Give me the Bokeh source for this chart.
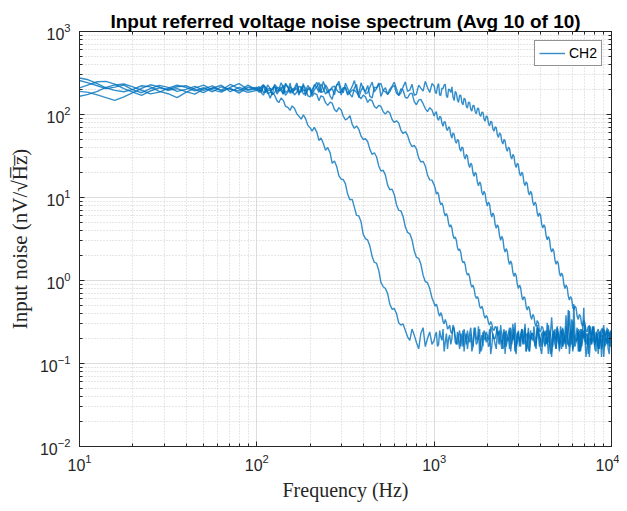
from bokeh.plotting import figure
from bokeh.models import LogAxis, LogTicker, Legend, LegendItem
from bokeh.embed import file_html
from bokeh.resources import INLINE

# ---------------- data ----------------
freq_low = [10, 11.2, 12.6, 14.1, 15.8, 17.8, 20.0, 22.4, 25.1, 28.2,
            31.6, 35.5, 39.8, 44.7, 50.1, 56.2, 63.1, 70.8, 79.4, 89.1]
freq_mid = [100, 106, 112, 119, 126, 133, 141, 150, 158, 168,
            178, 188, 200, 211, 224, 237, 251, 266, 282, 299,
            316, 335, 355, 376, 398, 422, 447, 473, 501, 531,
            562, 596, 631, 668, 708, 750, 794, 841, 891, 944]
freq_mid_b = [103, 109, 115, 122, 130, 137, 145, 154, 163, 173,
              183, 194, 205, 218, 230, 244, 259, 274, 290, 307,
              325, 345, 365, 387, 410, 434, 460, 487, 516, 546,
              579, 613, 649, 688, 729, 772, 818, 866, 917, 972]
freq_high = [1000, 1029, 1059, 1090, 1122, 1155, 1189, 1223, 1259, 1296,
             1334, 1372, 1413, 1454, 1496, 1540, 1585, 1631, 1679, 1728,
             1778, 1830, 1884, 1939, 1995, 2054, 2113, 2175, 2239, 2304,
             2371, 2441, 2512, 2585, 2661, 2738, 2818, 2901, 2985, 3073,
             3162, 3255, 3350, 3447, 3548, 3652, 3758, 3868, 3981, 4097,
             4217, 4340, 4467, 4597, 4732, 4870, 5012, 5158, 5309, 5464,
             5623, 5788, 5957, 6131, 6310, 6494, 6683, 6879, 7079, 7286,
             7499, 7718, 7943, 8175, 8414, 8660, 8913, 9173, 9441, 9716,
             10000]
freq_high_b = [1014, 1044, 1074, 1106, 1138, 1172, 1206, 1241, 1277, 1315,
               1353, 1392, 1433, 1475, 1518, 1562, 1608, 1655, 1703, 1753,
               1804, 1857, 1911, 1967, 2024, 2084, 2144, 2207, 2271, 2337,
               2405, 2476, 2548, 2622, 2700, 2778, 2859, 2943, 3028, 3118,
               3208, 3302, 3399, 3497, 3599, 3705, 3812, 3924, 4039, 4156,
               4278, 4403, 4532, 4664, 4801, 4941, 5085, 5233, 5386, 5543,
               5704, 5872, 6043, 6220, 6401, 6588, 6780, 6979, 7182, 7392,
               7608, 7830, 8058, 8293, 8536, 8785, 9042, 9306, 9578, 9857]

# ---- trace 1 ----
trace1_low = [257, 240, 222, 205, 214, 226, 198, 183, 205, 224,
              212, 190, 201, 218, 195, 207, 225, 188, 212, 196]
trace1_mid = [205, 183, 200, 157, 171, 139, 148, 121, 127, 102,
              88, 90, 69, 70, 48.7, 45, 40, 25.8, 23.7, 16.6,
              14.6, 9.4, 7.6, 6.0, 3.6, 3.06, 1.94, 1.62, 0.95, 0.80,
              0.52, 0.46, 0.31, 0.30, 0.21, 0.26, 0.18, 0.23, 0.16, 0.24]
trace1_mid_b = [218, 171, 189, 184, 146, 158, 126, 112, 119, 95,
                99, 74, 63, 61, 52, 37, 34.5, 27.5, 18.4, 16.5,
                11.0, 9.5, 6.1, 5.1, 3.2, 2.6, 1.65, 1.32, 0.84, 0.70,
                0.45, 0.40, 0.29, 0.25, 0.19, 0.22, 0.15, 0.27, 0.20, 0.17]
trace1_high = [0.19, 0.24, 0.17, 0.21, 0.26, 0.18, 0.15, 0.22, 0.20, 0.27,
               0.17, 0.19, 0.23, 0.16, 0.21, 0.25, 0.18, 0.14, 0.22, 0.20,
               0.28, 0.19, 0.16, 0.23, 0.21, 0.17, 0.26, 0.20, 0.15, 0.24,
               0.19, 0.22, 0.13, 0.21, 0.27, 0.18, 0.20, 0.16, 0.25, 0.22,
               0.17, 0.30, 0.19, 0.14, 0.23, 0.21, 0.18, 0.26, 0.15, 0.20,
               0.24, 0.17, 0.22, 0.12, 0.25, 0.19, 0.21, 0.28, 0.16, 0.23,
               0.18, 0.20, 0.34, 0.17, 0.22, 0.14, 0.26, 0.19, 0.21, 0.16,
               0.29, 0.18, 0.23, 0.20, 0.13, 0.25, 0.17, 0.22, 0.27, 0.18,
               0.20]
trace1_high_b = [0.22, 0.16, 0.25, 0.19, 0.14, 0.23, 0.20, 0.17, 0.29, 0.18,
                 0.24, 0.15, 0.21, 0.26, 0.17, 0.20, 0.23, 0.16, 0.27, 0.19,
                 0.13, 0.22, 0.25, 0.18, 0.16, 0.28, 0.21, 0.17, 0.24, 0.19,
                 0.15, 0.26, 0.20, 0.23, 0.14, 0.22, 0.31, 0.18, 0.16, 0.25,
                 0.21, 0.14, 0.27, 0.19, 0.23, 0.16, 0.24, 0.20, 0.13, 0.22,
                 0.18, 0.29, 0.16, 0.21, 0.19, 0.26, 0.15, 0.23, 0.20, 0.38,
                 0.17, 0.24, 0.14, 0.21, 0.27, 0.18, 0.16, 0.25, 0.12, 0.22,
                 0.20, 0.28, 0.17, 0.23, 0.19, 0.15, 0.26, 0.21, 0.18, 0.24]

# ---- trace 2 ----
trace2_low = [209, 228, 248, 251, 232, 205, 186, 170, 192, 210,
              199, 216, 222, 201, 183, 210, 197, 230, 203, 185]
trace2_mid = [196, 214, 187, 205, 222, 193, 178, 210, 201, 185,
              212, 180, 197, 181, 146, 163, 129, 137, 108, 113,
              86, 97, 68, 66, 50, 47, 33, 31, 20.8, 18.6,
              12.4, 10.8, 7.0, 5.9, 3.8, 3.1, 1.9, 1.58, 0.97, 0.80]
trace2_mid_b = [205, 183, 227, 198, 176, 214, 231, 189, 172, 219,
                176, 203, 165, 174, 168, 139, 141, 115, 121, 96,
                89, 76, 73, 55, 51, 38, 34.6, 24, 21.3, 14.2,
                12.6, 8.2, 6.9, 4.4, 3.65, 2.28, 1.85, 1.16, 0.94, 0.62]
trace2_high = [0.53, 0.52, 0.40, 0.41, 0.32, 0.34, 0.26, 0.29, 0.23, 0.26,
               0.18, 0.22, 0.16, 0.25, 0.20, 0.15, 0.23, 0.19, 0.27, 0.17,
               0.21, 0.14, 0.24, 0.19, 0.22, 0.26, 0.16, 0.20, 0.23, 0.18,
               0.29, 0.15, 0.21, 0.19, 0.25, 0.17, 0.22, 0.13, 0.24, 0.20,
               0.18, 0.27, 0.16, 0.21, 0.23, 0.19, 0.15, 0.26, 0.20, 0.22,
               0.17, 0.31, 0.19, 0.14, 0.24, 0.21, 0.18, 0.25, 0.16, 0.22,
               0.20, 0.43, 0.17, 0.23, 0.19, 0.26, 0.15, 0.21, 0.24, 0.18,
               0.12, 0.22, 0.27, 0.19, 0.16, 0.23, 0.20, 0.25, 0.17, 0.21,
               0.19]
trace2_high_b = [0.49, 0.47, 0.37, 0.38, 0.30, 0.31, 0.27, 0.24, 0.27, 0.21,
                 0.17, 0.25, 0.20, 0.14, 0.23, 0.19, 0.27, 0.16, 0.22, 0.18,
                 0.26, 0.15, 0.21, 0.24, 0.19, 0.13, 0.23, 0.20, 0.28, 0.17,
                 0.22, 0.16, 0.25, 0.19, 0.21, 0.30, 0.15, 0.23, 0.18, 0.26,
                 0.20, 0.14, 0.24, 0.19, 0.22, 0.17, 0.27, 0.21, 0.16, 0.25,
                 0.18, 0.23, 0.13, 0.22, 0.20, 0.28, 0.17, 0.24, 0.19, 0.15,
                 0.26, 0.21, 0.33, 0.18, 0.22, 0.14, 0.25, 0.20, 0.17, 0.23,
                 0.19, 0.27, 0.16, 0.21, 0.24, 0.12, 0.22, 0.19, 0.26, 0.18]

# ---- trace 3 ----
trace3_low = [190, 185, 172, 160, 148, 163, 184, 207, 228, 215,
              196, 205, 189, 176, 204, 221, 193, 208, 181, 214]
trace3_mid = [203, 188, 214, 197, 183, 209, 226, 194, 180, 205,
              217, 192, 199, 228, 185, 207, 190, 213, 198, 188,
              208, 183, 194, 166, 171, 140, 146, 119, 125, 101,
              104, 80, 79, 59, 56, 41, 38.5, 26.8, 24, 16.3]
trace3_mid_b = [186, 221, 193, 175, 212, 196, 184, 238, 202, 171,
                195, 224, 180, 209, 233, 176, 199, 220, 184, 211,
                172, 198, 186, 155, 163, 152, 125, 129, 108, 110,
                87, 84, 65, 62, 46, 42.5, 30, 27.3, 18.7, 16.2]
trace3_high = [14.1, 11.0, 10.9, 8.2, 7.9, 6.0, 5.9, 4.4, 4.3, 3.2,
               3.05, 2.3, 2.17, 1.63, 1.55, 1.16, 1.10, 0.83, 0.80, 0.61,
               0.59, 0.46, 0.45, 0.35, 0.36, 0.29, 0.30, 0.25, 0.27, 0.22,
               0.20, 0.17, 0.24, 0.19, 0.15, 0.22, 0.26, 0.18, 0.21, 0.16,
               0.25, 0.19, 0.23, 0.14, 0.20, 0.28, 0.17, 0.22, 0.19, 0.24,
               0.16, 0.21, 0.18, 0.36, 0.20, 0.15, 0.23, 0.19, 0.26, 0.17,
               0.22, 0.13, 0.25, 0.20, 0.18, 0.24, 0.16, 0.21, 0.29, 0.19,
               0.23, 0.17, 0.20, 0.14, 0.26, 0.18, 0.22, 0.19, 0.25, 0.16,
               0.21]
trace3_high_b = [12.9, 11.6, 9.0, 8.6, 6.6, 6.4, 4.85, 4.7, 3.5, 3.35,
                 2.5, 2.4, 1.78, 1.7, 1.27, 1.22, 0.91, 0.88, 0.66, 0.64,
                 0.49, 0.49, 0.38, 0.38, 0.31, 0.32, 0.26, 0.28, 0.23, 0.25,
                 0.18, 0.24, 0.16, 0.21, 0.27, 0.19, 0.14, 0.23, 0.20, 0.26,
                 0.17, 0.22, 0.15, 0.25, 0.19, 0.21, 0.29, 0.16, 0.23, 0.18,
                 0.20, 0.13, 0.24, 0.22, 0.17, 0.27, 0.19, 0.15, 0.23, 0.21,
                 0.44, 0.18, 0.25, 0.16, 0.20, 0.14, 0.26, 0.22, 0.19, 0.17,
                 0.28, 0.20, 0.15, 0.24, 0.21, 0.18, 0.12, 0.23, 0.19, 0.25]

# ---- trace 4 ----
trace4_low = [275, 262, 236, 210, 195, 188, 201, 222, 215, 190,
              178, 160, 185, 208, 226, 198, 186, 212, 235, 199]
trace4_mid = [214, 193, 208, 185, 220, 199, 211, 187, 204, 226,
              195, 168, 210, 198, 243, 189, 206, 152, 222, 201,
              238, 176, 209, 160, 218, 183, 246, 205, 165, 210,
              189, 224, 171, 196, 158, 181, 131, 152, 118, 121]
trace4_mid_b = [197, 230, 178, 206, 189, 241, 170, 215, 193, 181,
                236, 204, 174, 219, 185, 228, 167, 199, 252, 183,
                207, 162, 231, 194, 177, 213, 188, 240, 195, 174,
                213, 180, 204, 160, 177, 143, 149, 135, 108, 113]
trace4_high = [96, 108, 85, 93, 72, 81, 64, 69, 52, 58,
               45, 49, 36, 39.5, 29, 31.5, 23, 24.8, 18, 19.2,
               13.8, 14.6, 10.7, 11.1, 7.9, 8.3, 5.8, 6.1, 4.25, 4.4,
               3.05, 3.15, 2.2, 2.25, 1.56, 1.6, 1.12, 1.14, 0.80, 0.82,
               0.58, 0.61, 0.44, 0.46, 0.34, 0.37, 0.28, 0.31, 0.24, 0.27,
               0.22, 0.19, 0.25, 0.17, 0.21, 0.15, 0.23, 0.20, 0.27, 0.18,
               0.22, 0.16, 0.24, 0.52, 0.19, 0.21, 0.14, 0.26, 0.18, 0.23,
               0.20, 0.17, 0.28, 0.19, 0.15, 0.22, 0.25, 0.18, 0.21, 0.13,
               0.20]
trace4_high_b = [104, 90, 95, 79, 82, 68, 71, 57, 60, 48,
                 50, 39, 40.5, 31.5, 33, 25.2, 26, 19.7, 20, 15.2,
                 15.4, 11.6, 11.9, 8.8, 8.8, 6.5, 6.5, 4.75, 4.7, 3.45,
                 3.4, 2.45, 2.42, 1.75, 1.72, 1.25, 1.23, 0.90, 0.88, 0.65,
                 0.64, 0.48, 0.49, 0.37, 0.39, 0.30, 0.33, 0.25, 0.28, 0.23,
                 0.25, 0.18, 0.23, 0.16, 0.26, 0.20, 0.14, 0.22, 0.19, 0.28,
                 0.17, 0.24, 0.15, 0.21, 0.19, 0.25, 0.17, 0.47, 0.22, 0.13,
                 0.20, 0.26, 0.18, 0.23, 0.16, 0.21, 0.29, 0.19, 0.15, 0.24]

# ---- trace 5 ----
trace5_low = [166, 175, 190, 212, 227, 233, 215, 196, 177, 186,
              207, 225, 212, 193, 210, 188, 216, 201, 192, 226]
trace5_mid = [197, 218, 184, 206, 231, 192, 175, 214, 199, 240,
              186, 208, 163, 221, 197, 250, 182, 205, 229, 171,
              214, 193, 256, 178, 203, 224, 158, 209, 236, 187,
              201, 245, 169, 215, 190, 232, 176, 208, 251, 184]
trace5_mid_b = [188, 226, 203, 171, 212, 195, 238, 180, 209, 190,
                224, 168, 201, 243, 185, 211, 196, 172, 233, 205,
                179, 218, 199, 241, 187, 165, 213, 229, 194, 176,
                220, 203, 183, 247, 198, 170, 226, 191, 212, 236]
trace5_high = [221, 178, 236, 170, 205, 232, 160, 199, 215, 147,
               181, 140, 170, 131, 152, 119, 139, 110, 128, 102,
               119, 95, 106, 83, 94, 73, 81, 63, 69, 53,
               58, 44, 48, 36, 39, 29, 31.5, 23, 24.7, 18.1,
               19.1, 13.9, 14.6, 10.7, 11.2, 8.0, 8.3, 5.9, 6.1, 4.3,
               4.4, 3.1, 3.15, 2.2, 2.25, 1.57, 1.6, 1.12, 1.15, 0.80,
               0.83, 0.58, 0.61, 0.44, 0.47, 0.34, 0.37, 0.28, 0.31, 0.24,
               0.27, 0.22, 0.19, 0.24, 0.17, 0.21, 0.26, 0.16, 0.20, 0.23,
               0.18]
trace5_high_b = [187, 219, 171, 208, 226, 168, 203, 184, 162, 190,
                 150, 171, 139, 157, 126, 141, 116, 129, 108, 118,
                 100, 107, 88, 96, 78, 83, 67, 71, 57, 60,
                 48, 50, 39, 40.5, 31.5, 33, 25, 26, 19.6, 20.2,
                 15.1, 15.5, 11.5, 11.9, 8.8, 8.8, 6.5, 6.5, 4.75, 4.7,
                 3.45, 3.4, 2.45, 2.42, 1.75, 1.72, 1.25, 1.23, 0.90, 0.88,
                 0.65, 0.64, 0.48, 0.49, 0.37, 0.39, 0.30, 0.33, 0.25, 0.28,
                 0.23, 0.25, 0.17, 0.22, 0.15, 0.26, 0.20, 0.18, 0.24, 0.16]

title_text = "Input referred voltage noise spectrum (Avg 10 of 10)"
x_label = "Frequency (Hz)"
y_label = "Input noise (nV/\u221aH\u0305z\u0305)"
legend_label = "CH2"


# ---------------- assemble each trace (sorted by frequency) ----------------
def assemble(low, mid, mid_b, high, high_b):
    f_all = freq_low + freq_mid + freq_mid_b + freq_high + freq_high_b
    v_all = low + mid + mid_b + high + high_b
    if len(f_all) != len(v_all):
        raise ValueError("length mismatch %d vs %d" % (len(f_all), len(v_all)))
    pairs = sorted(zip(f_all, v_all))
    return [a for a, _ in pairs], [b for _, b in pairs]


traces = [
    assemble(trace1_low, trace1_mid, trace1_mid_b, trace1_high, trace1_high_b),
    assemble(trace2_low, trace2_mid, trace2_mid_b, trace2_high, trace2_high_b),
    assemble(trace3_low, trace3_mid, trace3_mid_b, trace3_high, trace3_high_b),
    assemble(trace4_low, trace4_mid, trace4_mid_b, trace4_high, trace4_high_b),
    assemble(trace5_low, trace5_mid, trace5_mid_b, trace5_high, trace5_high_b),
]

INK = "#262626"
BLUE = "#0072BD"

p = figure(width=619, height=503, x_axis_type="log", y_axis_type="log",
           x_range=(10, 1e4), y_range=(1e-2, 1e3),
           output_backend="svg", toolbar_location=None,
           min_border_left=79, min_border_right=8, min_border_top=31,
           min_border_bottom=10)
p.background_fill_color = "white"
p.border_fill_color = "white"
p.outline_line_color = INK
p.outline_line_width = 1

p.title.text = title_text
p.title.align = "center"
p.title.text_font = "Liberation Sans"
p.title.text_font_style = "bold"
p.title.text_font_size = "19px"
p.title.text_color = "black"
p.title.standoff = 0

for ax in [p.xaxis[0], p.yaxis[0]]:
    ax.ticker = LogTicker(num_minor_ticks=10)
    ax.axis_line_color = INK
    ax.major_tick_line_color = INK
    ax.minor_tick_line_color = INK
    ax.major_tick_in = 5
    ax.major_tick_out = 0
    ax.minor_tick_in = 3
    ax.minor_tick_out = 0
    ax.major_label_text_font = "Liberation Sans"
    ax.major_label_text_font_size = "16px"
    ax.major_label_text_color = INK
    ax.axis_label_text_font = "Liberation Serif"
    ax.axis_label_text_font_style = "normal"
    ax.axis_label_text_font_size = "20px"
    ax.axis_label_text_color = INK

p.xaxis.axis_label = x_label
p.yaxis.axis_label = y_label
p.yaxis.axis_label_text_font_size = "21px"
p.xaxis.major_label_standoff = 7
p.yaxis.major_label_standoff = 9
p.xaxis.axis_label_standoff = 5
p.yaxis.axis_label_standoff = 5

for side in ["right", "above"]:
    ax = LogAxis(ticker=LogTicker(num_minor_ticks=10))
    ax.axis_line_color = INK
    ax.major_tick_line_color = INK
    ax.minor_tick_line_color = INK
    ax.major_tick_in = 5
    ax.major_tick_out = 0
    ax.minor_tick_in = 3
    ax.minor_tick_out = 0
    ax.major_label_text_font_size = "1px"
    ax.major_label_text_color = None
    ax.major_label_standoff = 0
    p.add_layout(ax, side)

for g in [p.xgrid[0], p.ygrid[0]]:
    g.grid_line_color = "#dcdcdc"
    g.grid_line_width = 1
    g.minor_grid_line_color = "#cfcfcf"
    g.minor_grid_line_dash = "1 2"
    g.minor_grid_line_width = 1

renderers = []
for fr, tr in traces:
    r = p.line(fr, tr, line_color=BLUE, line_width=1.4, line_alpha=0.8)
    renderers.append(r)

legend = Legend(items=[LegendItem(label=legend_label, renderers=[renderers[0]])],
                location="top_right")
legend.border_line_color = INK
legend.border_line_width = 1
legend.background_fill_color = "white"
legend.background_fill_alpha = 1
legend.label_text_font = "Liberation Sans"
legend.label_text_font_size = "14px"
legend.label_text_color = "black"
legend.glyph_width = 26
legend.glyph_height = 14
legend.label_standoff = 4
legend.padding = 4
legend.margin = 9
legend.spacing = 0
legend.label_height = 14
p.add_layout(legend)

open("out.html", "w").write(file_html(p, INLINE))
